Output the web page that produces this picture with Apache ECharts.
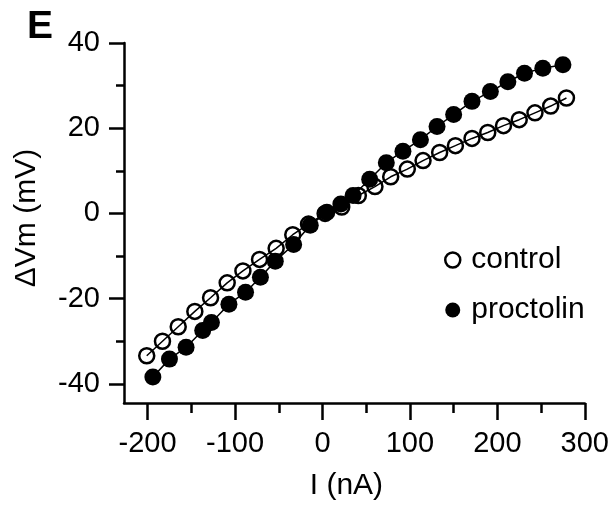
<!DOCTYPE html>
<html>
<head>
<meta charset="utf-8">
<script src="https://cdn.jsdelivr.net/npm/echarts@6/dist/echarts.min.js"></script>
<style>
html,body{margin:0;padding:0;background:#fff;}
#chart{width:612px;height:506px;}
</style>
</head>
<body>
<div id="chart"></div>
<script>
// ---- data ----
var controlI = [-201, -183, -165, -146, -128, -109, -91, -72, -53, -34, -16, 3, 22, 41, 60, 78, 97, 115, 134, 152, 171, 189, 207, 225, 243, 261, 279];
var controlV = [-33.4, -30.0, -26.6, -23.0, -19.8, -16.3, -13.5, -10.8, -8.2, -5.0, -2.5, 0.0, 1.5, 4.2, 6.3, 8.6, 10.4, 12.4, 14.3, 15.9, 17.6, 19.0, 20.6, 22.0, 23.6, 25.2, 27.1];
var proctolinI = [-194, -175, -156, -137, -127, -107, -88, -71, -54, -33, -14, 5, 21, 35, 54, 73, 92, 112, 131, 150, 171, 192, 212, 231, 252, 275];
var proctolinV = [-38.4, -34.2, -31.4, -27.5, -25.6, -21.3, -18.5, -15.0, -11.2, -7.3, -2.8, 0.3, 2.2, 4.2, 8.0, 11.9, 14.6, 17.3, 20.4, 23.2, 26.3, 28.6, 30.9, 32.9, 34.1, 34.9];
var xMajorTicks = [-200, -100, 0, 100, 200, 300];
var xMinorTicks = [-150, -50, 50, 150, 250];
var yMajorTicks = [-40, -20, 0, 20, 40];
var yMinorTicks = [-30, -10, 10, 30];
var panelLabel = 'E';
var xName = 'I (nA)';
var yName = 'ΔVm (mV)';
var seriesNames = ['control', 'proctolin'];

function pairs(xs, ys) { return xs.map(function (x, i) { return [x, ys[i]]; }); }

var FONT = 'Liberation Sans, Arial, Helvetica, sans-serif';
var chart = echarts.init(document.getElementById('chart'), null, { renderer: 'canvas' });
var lineBlack = { color: '#000', width: 2.5 };

chart.setOption({
  animation: false,
  backgroundColor: '#fff',
  title: {
    text: panelLabel, left: 22, top: 3,
    textStyle: { fontSize: 39, fontWeight: 'bold', color: '#000', fontFamily: FONT }
  },
  legend: {
    orient: 'vertical', left: 439, top: 240, itemGap: 20,
    itemWidth: 15, itemHeight: 15,
    textStyle: { fontSize: 30, color: '#000', fontFamily: FONT, padding: [0, 0, 0, 6] },
    data: [
      { name: seriesNames[0], icon: 'circle', itemStyle: { color: '#fff', borderColor: '#000', borderWidth: 2.5 } },
      { name: seriesNames[1], icon: 'circle', itemStyle: { color: '#000', borderWidth: 0 } }
    ]
  },
  grid: { left: 124, right: 23, top: 43, bottom: 102, containLabel: false },
  xAxis: [
    {
      type: 'value', min: -227, max: 300, position: 'bottom',
      name: xName, nameLocation: 'middle', nameGap: 68,
      nameTextStyle: { fontSize: 30, color: '#000', fontFamily: FONT, padding: [0, 16, 0, 0] },
      axisLine: { show: true, onZero: false, lineStyle: lineBlack },
      axisTick: { show: true, length: 17, lineStyle: lineBlack, customValues: xMajorTicks },
      axisLabel: { show: true, fontSize: 29, color: '#000', fontFamily: FONT, margin: 26, customValues: xMajorTicks },
      splitLine: { show: false }
    },
    {
      type: 'value', min: -227, max: 300, position: 'bottom',
      axisLine: { show: false, onZero: false },
      axisTick: { show: true, length: 10, lineStyle: lineBlack, customValues: xMinorTicks },
      axisLabel: { show: false },
      splitLine: { show: false }
    }
  ],
  yAxis: [
    {
      type: 'value', min: -44.5, max: 40, position: 'left',
      name: yName, nameLocation: 'middle', nameGap: 82, nameRotate: 90,
      nameTextStyle: { fontSize: 30, color: '#000', fontFamily: FONT, padding: [0, 0, 0, 10] },
      axisLine: { show: true, onZero: false, lineStyle: lineBlack },
      axisTick: { show: true, length: 15, lineStyle: lineBlack, customValues: yMajorTicks },
      axisLabel: { show: true, fontSize: 29, color: '#000', fontFamily: FONT, margin: 24, customValues: yMajorTicks },
      splitLine: { show: false }
    },
    {
      type: 'value', min: -44.5, max: 40, position: 'left',
      axisLine: { show: false, onZero: false },
      axisTick: { show: true, length: 8, lineStyle: lineBlack, customValues: yMinorTicks },
      axisLabel: { show: false },
      splitLine: { show: false }
    }
  ],
  series: [
    {
      name: seriesNames[1], type: 'line', xAxisIndex: 0, yAxisIndex: 0,
      data: pairs(proctolinI, proctolinV),
      symbol: 'circle', symbolSize: 17, showAllSymbol: true,
      lineStyle: { color: '#000', width: 1.5 },
      itemStyle: { color: '#000', borderWidth: 0 },
      z: 2
    },
    {
      name: seriesNames[0], type: 'line', xAxisIndex: 0, yAxisIndex: 0,
      data: pairs(controlI, controlV),
      symbol: 'circle', symbolSize: 15, showAllSymbol: true,
      lineStyle: { color: '#000', width: 1.5 },
      itemStyle: { color: 'rgba(255,255,255,0)', borderColor: '#000', borderWidth: 2.5 },
      z: 3
    }
  ]
});
</script>
</body>
</html>
